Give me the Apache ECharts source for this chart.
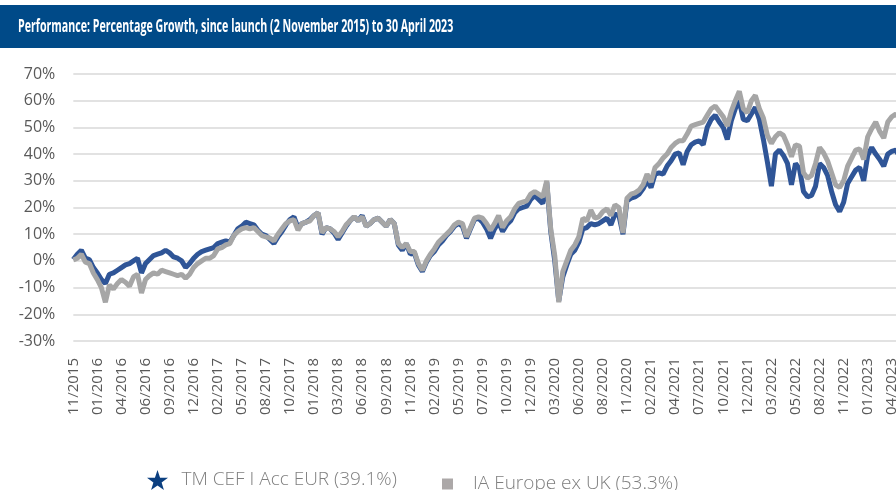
<!DOCTYPE html>
<html><head><meta charset="utf-8">
<script src="https://cdn.jsdelivr.net/npm/echarts@6/dist/echarts.min.js"></script>
<style>html,body{margin:0;padding:0;background:#fff}#c{width:896px;height:490px}</style>
</head><body><div id="c"></div>
<script>
const titleText = 'Performance: Percentage Growth, since launch (2 November 2015) to 30 April 2023';
const seriesNames = ['TM CEF I Acc EUR (39.1%)', 'IA Europe ex UK (53.3%)'];
const tickLabels = ['11/2015','01/2016','04/2016','06/2016','09/2016','12/2016','02/2017','05/2017','08/2017','10/2017',
  '01/2018','03/2018','06/2018','09/2018','11/2018','02/2019','05/2019','07/2019','10/2019','12/2019',
  '03/2020','06/2020','08/2020','11/2020','02/2021','04/2021','07/2021','10/2021','12/2021','03/2022',
  '05/2022','08/2022','11/2022','01/2023','04/2023'];
const pointsPerTick = 6;
const fundValues = [
  0.5,2.5,4.0,1.0,0.5,-2.5,-4.5,-7.0,-8.5,-5.0,
  -4.5,-3.5,-2.5,-1.5,-1.0,0.0,1.0,-4.5,-1.0,0.5,
  2.0,2.5,3.0,4.0,3.0,1.5,1.0,0.0,-2.5,-1.0,
  1.0,2.5,3.5,4.0,4.5,5.0,6.5,7.0,7.5,7.0,
  9.5,12.0,13.0,14.5,14.0,13.5,11.5,10.0,9.5,8.0,6.5,9.0,
  11,13.5,15.5,16.5,12.5,14,14.5,15.5,17,18,
  10,12.5,12,10.5,8,10.5,13,15,16.5,15,
  17,13,14,15.5,16,14.5,13,15.5,14,6,
  4,6.5,2.5,3,-1.5,-4,-0.5,2,3.5,6,
  7.5,9.5,11,13,14,13,8.5,12,15.5,16,14.5,
  12,8.5,12,14.5,11,13.5,15,18,19.5,20,
  20.5,23,24.5,23,21.5,29.5,11,0,-15,-6,
  -1.5,2.5,4,7,12,12.5,14,13.5,14,15,
  16,13.5,17.5,17,10,22.5,23.5,24,25,27,
  30,27.5,32.5,33,32.5,35.5,37.5,40,40.5,36,
  41,43.5,44.5,45,43.5,50,53,54.5,52,50,
  45.5,52.5,57,60,53,52.5,55,57.5,53,45.5,
  37,28,40,41.5,39.5,36.5,28.5,36.5,34.5,26,
  24,24.5,28,36.5,35,32,26,21,18.5,22,
  29,31.5,34,35,30,39.5,42.5,40,38,35.5,
  40,41,41.5,39.1
];
const sectorValues = [
  0.3,1.0,2.5,-0.5,-1.0,-4.5,-7.0,-10.0,-15.5,-9.0,
  -10.5,-8.5,-7.0,-8.0,-9.5,-6.0,-5.0,-12.0,-7.0,-5.5,
  -4.5,-5.0,-3.5,-4.0,-4.5,-5.0,-5.5,-5.0,-6.5,-5.0,
  -2.5,-1.0,0.0,1.0,1.0,2.0,4.5,5.0,6.0,6.5,
  9.5,11.0,12.0,12.5,12.0,12.5,11.0,9.5,9.0,8.5,7.5,10.0,
  12,14,15,15.5,11.5,14,14.5,15,17,18,
  10.5,12.5,12,11,9,11,13.5,15,16.5,15,
  16.5,13,14,15.5,16,14.5,13,15.5,14,6.5,
  5,6.5,3.5,3.5,-1,-3.5,0,2.5,4.5,7,
  8.5,10,11.5,13.5,14.5,14,9,12.5,16,16.5,16,
  14,11.5,14,17,12.5,15,16.5,19.5,21.5,22,
  22.5,25,26,25,24,30,12,2,-15.5,-4,
  0,4,6,9,16,15,19,16,16.5,18.5,
  19.5,17,21,20,10.5,23.5,25,25.5,26.5,28.5,
  32.5,29.5,35,36.5,38.5,40,42.5,44,45,45,
  47.5,50.5,51,51.5,52,54.5,57,58,56,54,
  50.5,56,60,63.5,57,55.5,60,62,57,53.5,
  47,44,46.5,48,47,43.5,39,43.5,43,33,
  31,32,36.5,42.5,40.5,37.5,33,28.5,27.5,30,
  35.5,38.5,41.5,42,38,46.5,49.5,52,48.5,46,
  52,54,55,53.3
];

const toPairs = arr => arr.map((v, i) => [i, v]);
const starPath = 'path://M50,0L61.8,35.1L98.1,35.1L68.8,56.8L79.4,91.6L50,70.5L20.6,91.6L31.2,56.8L1.9,35.1L38.2,35.1Z';
const squarePath = 'path://M0,0L10,0L10,10L0,10Z';
const font = '"Open Sans", "Noto Sans", sans-serif';
const legendText = {fontSize: 19, color: '#7f7f7f', fontFamily: font, fontWeight: 300};

const chart = echarts.init(document.getElementById('c'), null, {renderer: 'canvas'});
chart.setOption({
  animation: false,
  backgroundColor: '#ffffff',
  graphic: [
    {type: 'rect', left: 0, top: 5, z: 10, shape: {width: 896, height: 43}, style: {fill: '#004a88'}},
    {type: 'text', x: 18, y: 27, z: 11, scaleX: 0.626, style: {text: titleText, fill: '#ffffff', fontSize: 17, fontWeight: 'bold', fontFamily: font, verticalAlign: 'middle'}}
  ],
  grid: {left: 73.3, top: 74, right: -3.8, bottom: 149, containLabel: false, outerBoundsMode: 'none'},
  legend: [
    {data: [{name: seriesNames[0], icon: starPath, itemStyle: {color: '#0b3f80'}}], left: 147, top: 470, padding: 0,
     itemWidth: 38, itemHeight: 20, textStyle: legendText, selectedMode: false},
    {data: [{name: seriesNames[1], icon: squarePath, itemStyle: {color: '#aca8a8'}}], left: 442, top: 474.5, padding: 0,
     itemWidth: 41, itemHeight: 11, textStyle: legendText, selectedMode: false}
  ],
  xAxis: {
    type: 'value', min: 0, max: fundValues.length - 1, interval: pointsPerTick,
    axisLine: {show: false, onZero: false}, axisTick: {show: false}, splitLine: {show: false},
    axisLabel: {
      rotate: 90, margin: 17, fontSize: 15, color: '#595959', fontFamily: font,
      showMaxLabel: false,
      formatter: v => (v % pointsPerTick === 0 && tickLabels[v / pointsPerTick]) || ''
    }
  },
  yAxis: {
    type: 'value', min: -30, max: 70, interval: 10,
    axisLine: {show: false}, axisTick: {show: false},
    splitLine: {lineStyle: {color: '#d9d9d9', width: 1.5}},
    axisLabel: {formatter: '{value}%', fontSize: 16, color: '#595959', fontFamily: font, margin: 18}
  },
  series: [
    {name: seriesNames[0], type: 'line', data: toPairs(fundValues), showSymbol: false, symbol: 'none',
     lineStyle: {color: '#2f5597', width: 5}, itemStyle: {color: '#2f5597'}, z: 2},
    {name: seriesNames[1], type: 'line', data: toPairs(sectorValues), showSymbol: false, symbol: 'none',
     lineStyle: {color: '#a6a6a6', width: 5}, itemStyle: {color: '#a6a6a6'}, z: 3}
  ]
});
</script>
</body></html>
